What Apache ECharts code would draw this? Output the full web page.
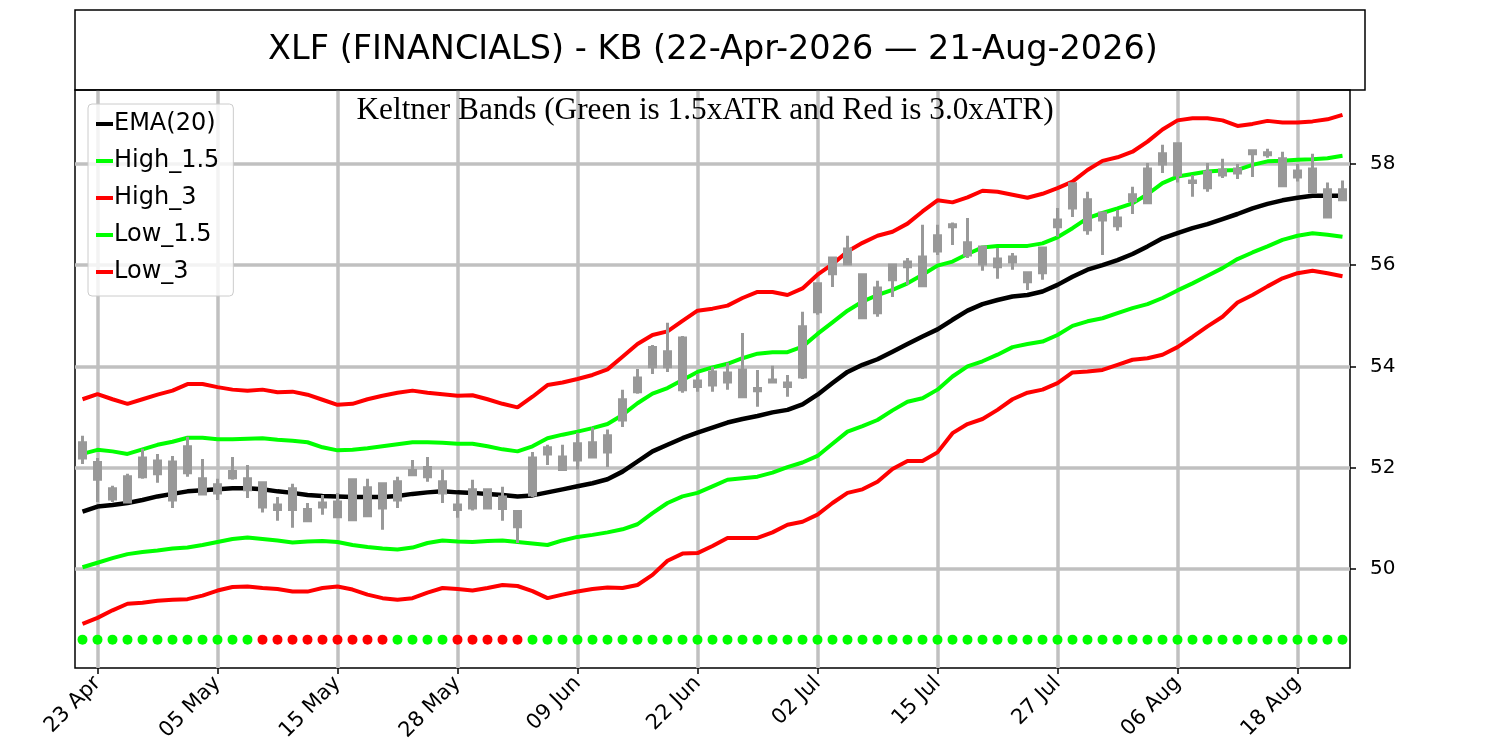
<!DOCTYPE html>
<html>
<head>
<meta charset="utf-8">
<title>XLF Keltner Bands</title>
<script src="https://cdn.jsdelivr.net/npm/echarts@6/dist/echarts.min.js"></script>
<style>
  html, body { margin: 0; padding: 0; background: #fff; }
  #chart { width: 1500px; height: 750px; }
</style>
</head>
<body>
<div id="chart"></div>
<script>
'use strict';

// trading days 22-Apr-2026 .. 21-Aug-2026
var dates = [
    '22 Apr', '23 Apr', '24 Apr', '27 Apr', '28 Apr', '29 Apr', '30 Apr',
    '01 May', '04 May', '05 May', '06 May', '07 May', '08 May', '11 May', '12 May', '13 May', '14 May', '15 May',
    '18 May', '19 May', '20 May', '21 May', '22 May', '26 May', '27 May', '28 May', '29 May',
    '01 Jun', '02 Jun', '03 Jun', '04 Jun', '05 Jun', '08 Jun', '09 Jun', '10 Jun', '11 Jun', '12 Jun',
    '15 Jun', '16 Jun', '17 Jun', '18 Jun', '22 Jun', '23 Jun', '24 Jun', '25 Jun', '26 Jun', '29 Jun', '30 Jun',
    '01 Jul', '02 Jul', '06 Jul', '07 Jul', '08 Jul', '09 Jul', '10 Jul', '13 Jul', '14 Jul', '15 Jul',
    '16 Jul', '17 Jul', '20 Jul', '21 Jul', '22 Jul', '23 Jul', '24 Jul', '27 Jul', '28 Jul', '29 Jul', '30 Jul', '31 Jul',
    '03 Aug', '04 Aug', '05 Aug', '06 Aug', '07 Aug', '10 Aug', '11 Aug', '12 Aug', '13 Aug', '14 Aug',
    '17 Aug', '18 Aug', '19 Aug', '20 Aug', '21 Aug'
];

// indexes of the dates that get a tick / label
var tickIndexes = [1, 9, 17, 25, 33, 41, 49, 57, 65, 73, 81];
var yTicks = [50, 52, 54, 56, 58];

// candle bodies and wicks
var opens = [
    52.49, 52.10, 51.58, 51.32, 51.82, 52.13, 52.11, 51.90, 51.78, 51.66,
    51.80, 51.78, 51.70, 51.26, 51.17, 51.17, 51.30, 51.03, 50.97, 51.60,
    51.20, 51.36, 51.86, 51.82, 51.72, 51.26, 51.20, 51.56, 51.42, 51.13,
    51.46, 52.27, 52.21, 52.15, 52.21, 52.31, 52.94, 53.50, 53.99, 54.29,
    54.56, 53.71, 53.63, 53.69, 53.93, 53.56, 53.69, 53.67, 53.79, 55.08,
    55.83, 56.02, 55.81, 55.55, 55.71, 56.06, 55.59, 56.28, 56.80, 56.44,
    56.36, 56.12, 56.06, 55.85, 55.85, 56.76, 57.13, 57.29, 57.03, 56.93,
    57.27, 57.23, 58.00, 58.40, 57.66, 57.53, 57.78, 57.82, 58.20, 58.22,
    58.10, 57.86, 57.90, 57.49, 57.29
];
var closes = [
    52.19, 51.77, 51.38, 51.82, 52.19, 51.88, 51.36, 52.41, 51.48, 51.50,
    51.92, 51.56, 51.22, 51.17, 51.58, 50.95, 51.22, 51.32, 51.76, 51.05,
    51.68, 51.72, 51.94, 52.00, 51.50, 51.17, 51.56, 51.20, 51.19, 50.83,
    52.19, 52.39, 51.96, 52.47, 52.49, 52.63, 53.34, 53.77, 54.37, 53.99,
    53.54, 53.60, 53.89, 53.87, 53.40, 53.52, 53.73, 53.60, 54.78, 55.63,
    56.14, 56.32, 54.96, 55.06, 56.00, 55.97, 56.16, 56.58, 56.76, 56.20,
    56.02, 55.97, 56.16, 55.67, 56.34, 56.89, 57.61, 56.70, 56.89, 56.78,
    57.39, 57.90, 58.20, 57.78, 57.63, 57.84, 57.88, 57.90, 58.26, 58.18,
    57.57, 57.74, 57.45, 56.95, 57.49
];
var lows = [
    52.07, 51.32, 51.32, 51.30, 51.78, 51.70, 51.20, 51.82, 51.46, 51.36,
    51.76, 51.40, 51.11, 50.95, 50.81, 50.95, 51.07, 51.03, 50.95, 51.03,
    50.77, 51.20, 51.86, 51.72, 51.30, 51.01, 51.15, 51.17, 50.95, 50.51,
    51.42, 52.05, 51.96, 51.96, 52.21, 52.01, 52.80, 53.46, 53.85, 53.89,
    53.48, 53.50, 53.50, 53.54, 53.40, 53.20, 53.69, 53.40, 53.75, 55.02,
    55.57, 56.02, 54.96, 54.98, 55.37, 55.61, 55.59, 56.20, 56.40, 56.14,
    55.89, 55.73, 55.91, 55.51, 55.71, 56.56, 56.95, 56.60, 56.20, 56.68,
    57.01, 57.23, 57.82, 57.63, 57.35, 57.45, 57.72, 57.70, 57.74, 58.12,
    57.57, 57.65, 57.43, 56.95, 57.27
];
var highs = [
    52.63, 52.19, 51.64, 51.88, 52.37, 52.27, 52.23, 52.61, 52.17, 51.78,
    52.21, 52.05, 51.72, 51.42, 51.68, 51.30, 51.46, 51.50, 51.78, 51.78,
    51.70, 51.82, 52.15, 52.21, 51.96, 51.46, 51.76, 51.58, 51.62, 51.13,
    52.31, 52.45, 52.45, 52.69, 52.79, 52.75, 53.54, 53.95, 54.42, 54.86,
    54.60, 53.85, 53.99, 54.07, 54.66, 53.93, 54.01, 53.83, 55.08, 55.63,
    56.14, 56.58, 55.81, 55.69, 56.00, 56.14, 56.80, 56.80, 56.84, 56.93,
    56.36, 56.34, 56.24, 55.85, 56.36, 57.13, 57.61, 57.45, 57.03, 57.09,
    57.55, 58.02, 58.38, 58.40, 57.78, 58.02, 58.10, 58.00, 58.28, 58.30,
    58.24, 58.00, 58.20, 57.63, 57.67
];

var ema20 = [
    51.13, 51.23, 51.26, 51.30, 51.36, 51.43, 51.48, 51.53, 51.55, 51.57,
    51.59, 51.59, 51.57, 51.53, 51.50, 51.46, 51.44, 51.43, 51.42, 51.42,
    51.42, 51.44, 51.48, 51.51, 51.53, 51.51, 51.50, 51.48, 51.46, 51.43,
    51.45, 51.51, 51.57, 51.63, 51.69, 51.77, 51.92, 52.12, 52.32, 52.45,
    52.58, 52.69, 52.79, 52.89, 52.96, 53.02, 53.09, 53.14, 53.25, 53.44,
    53.67, 53.89, 54.03, 54.14, 54.29, 54.44, 54.59, 54.73, 54.92, 55.10,
    55.23, 55.31, 55.38, 55.41, 55.48, 55.61, 55.77, 55.91, 56.00, 56.10,
    56.22, 56.37, 56.53, 56.63, 56.73, 56.81, 56.91, 57.01, 57.12, 57.21,
    57.28, 57.33, 57.37, 57.37, 57.37
];
var high15 = [
    52.27, 52.35, 52.32, 52.27, 52.36, 52.45, 52.51, 52.59, 52.59, 52.56,
    52.56, 52.57, 52.58, 52.55, 52.53, 52.50, 52.40, 52.34, 52.35, 52.38,
    52.42, 52.46, 52.50, 52.50, 52.49, 52.47, 52.47, 52.42, 52.36, 52.32,
    52.42, 52.58, 52.65, 52.71, 52.78, 52.86, 53.04, 53.27, 53.46, 53.57,
    53.73, 53.89, 53.98, 54.05, 54.16, 54.25, 54.28, 54.28, 54.39, 54.64,
    54.87, 55.10, 55.28, 55.41, 55.51, 55.64, 55.81, 55.99, 56.07, 56.22,
    56.35, 56.38, 56.38, 56.38, 56.43, 56.55, 56.73, 56.93, 57.03, 57.12,
    57.22, 57.40, 57.62, 57.75, 57.80, 57.85, 57.87, 57.88, 57.98, 58.05,
    58.06, 58.08, 58.09, 58.11, 58.16
];
var high3 = [
    53.35, 53.45, 53.35, 53.26, 53.35, 53.44, 53.52, 53.65, 53.65, 53.59,
    53.54, 53.52, 53.54, 53.49, 53.50, 53.44, 53.34, 53.24, 53.26, 53.35,
    53.42, 53.48, 53.52, 53.48, 53.45, 53.42, 53.43, 53.35, 53.26, 53.19,
    53.40, 53.63, 53.68, 53.75, 53.83, 53.94, 54.19, 54.44, 54.62, 54.69,
    54.90, 55.10, 55.14, 55.20, 55.35, 55.47, 55.47, 55.41, 55.54, 55.81,
    56.02, 56.27, 56.44, 56.58, 56.66, 56.82, 57.06, 57.28, 57.24, 57.34,
    57.47, 57.45, 57.39, 57.33, 57.41, 57.52, 57.65, 57.88, 58.06, 58.13,
    58.24, 58.44, 58.68, 58.86, 58.90, 58.90, 58.86, 58.75, 58.79, 58.85,
    58.82, 58.82, 58.84, 58.88, 58.97
];
var low15 = [
    50.03, 50.12, 50.21, 50.29, 50.33, 50.36, 50.40, 50.42, 50.47, 50.53,
    50.59, 50.62, 50.59, 50.56, 50.52, 50.54, 50.55, 50.53, 50.47, 50.43,
    50.40, 50.38, 50.42, 50.51, 50.56, 50.54, 50.53, 50.55, 50.56, 50.53,
    50.50, 50.47, 50.56, 50.63, 50.67, 50.72, 50.78, 50.88, 51.10, 51.30,
    51.43, 51.50, 51.63, 51.76, 51.79, 51.82, 51.90, 52.01, 52.10, 52.23,
    52.47, 52.71, 52.82, 52.94, 53.13, 53.30, 53.37, 53.54, 53.80, 54.00,
    54.10, 54.23, 54.38, 54.44, 54.49, 54.62, 54.80, 54.89, 54.95, 55.05,
    55.15, 55.23, 55.35, 55.50, 55.64, 55.79, 55.94, 56.12, 56.25, 56.37,
    56.50, 56.58, 56.63, 56.60, 56.56
];
var low3 = [
    48.91, 49.03, 49.18, 49.31, 49.33, 49.37, 49.39, 49.40, 49.47, 49.57,
    49.64, 49.65, 49.62, 49.60, 49.55, 49.55, 49.62, 49.65, 49.59, 49.49,
    49.42, 49.39, 49.42, 49.53, 49.62, 49.60, 49.57, 49.62, 49.68, 49.66,
    49.56, 49.42, 49.49, 49.55, 49.60, 49.63, 49.62, 49.68, 49.88, 50.16,
    50.30, 50.31, 50.45, 50.61, 50.61, 50.61, 50.72, 50.87, 50.93, 51.07,
    51.30, 51.50, 51.57, 51.72, 51.97, 52.13, 52.13, 52.30, 52.68, 52.86,
    52.96, 53.14, 53.35, 53.48, 53.54, 53.67, 53.88, 53.90, 53.93, 54.03,
    54.13, 54.16, 54.23, 54.38, 54.58, 54.79, 54.98, 55.26, 55.41, 55.58,
    55.74, 55.84, 55.89, 55.84, 55.78
];

// squeeze flag per day: 1 = red dot, 0 = green dot
var squeeze = [
    0, 0, 0, 0, 0, 0, 0, 0, 0, 0, 0, 0, 1, 1, 1, 1, 1, 1, 1, 1,
    1, 0, 0, 0, 0, 1, 1, 1, 1, 1, 0, 0, 0, 0, 0, 0, 0, 0, 0, 0,
    0, 0, 0, 0, 0, 0, 0, 0, 0, 0, 0, 0, 0, 0, 0, 0, 0, 0, 0, 0,
    0, 0, 0, 0, 0, 0, 0, 0, 0, 0, 0, 0, 0, 0, 0, 0, 0, 0, 0, 0,
    0, 0, 0, 0, 0
];
var dotLevel = 48.6;

var FONT = 'DejaVu Sans';
var GRID_COLOR = '#c0c0c0';
var CANDLE_COLOR = '#999999';

var candles = [];
for (var i = 0; i < dates.length; i++) {
    candles.push([opens[i], closes[i], lows[i], highs[i]]);
}
var dots = [];
for (var j = 0; j < dates.length; j++) {
    dots.push({
        value: dotLevel,
        itemStyle: { color: squeeze[j] ? '#ff0000' : '#00ff00', opacity: 1 }
    });
}

var isTick = function (index) {
    return tickIndexes.indexOf(index) >= 0;
};

var lineSeries = function (name, data, color, width) {
    return {
        name: name,
        type: 'line',
        data: data,
        symbol: 'none',
        z: 2,
        lineStyle: { color: color, width: width },
        itemStyle: { color: color }
    };
};

var chart = echarts.init(document.getElementById('chart'));
chart.setOption({
    animation: false,
    backgroundColor: '#fff',
    title: [{
        text: 'XLF (FINANCIALS) - KB (22-Apr-2026 \u2014 21-Aug-2026)',
        left: 713,
        top: 50,
        textAlign: 'center',
        textVerticalAlign: 'middle',
        padding: 0,
        textStyle: { fontFamily: FONT, fontSize: 33.5, fontWeight: 'normal', color: '#000' }
    }, {
        text: 'Keltner Bands (Green is 1.5xATR and Red is 3.0xATR)',
        left: 705,
        top: 111,
        textAlign: 'center',
        textVerticalAlign: 'middle',
        padding: 0,
        textStyle: { fontFamily: 'Liberation Serif', fontSize: 31.3, fontWeight: 'normal', color: '#000' }
    }],
    graphic: [{
        type: 'rect',
        shape: { x: 75, y: 10, width: 1290, height: 80 },
        style: { fill: 'none', stroke: '#000', lineWidth: 1.5 },
        z: 10
    }],
    legend: {
        data: ['EMA(20)', 'High_1.5', 'High_3', 'Low_1.5', 'Low_3'],
        orient: 'vertical',
        left: 88,
        top: 104,
        itemGap: 13,
        itemWidth: 17,
        itemHeight: 4,
        icon: 'rect',
        padding: [8, 14, 12, 8],
        borderColor: '#cccccc',
        borderWidth: 1,
        borderRadius: 4,
        backgroundColor: 'rgba(255,255,255,0.8)',
        textStyle: { fontFamily: FONT, fontSize: 24, color: '#000', padding: [0, 0, 0, -4] }
    },
    grid: {
        left: 75,
        top: 90,
        width: 1275,
        height: 578,
        show: true,
        borderColor: '#000',
        borderWidth: 1.5,
        containLabel: false
    },
    xAxis: {
        type: 'category',
        data: dates,
        boundaryGap: true,
        axisLine: { show: false },
        axisTick: {
            show: true,
            alignWithLabel: true,
            interval: isTick,
            length: 6,
            lineStyle: { color: '#000', width: 1.5 }
        },
        axisLabel: {
            interval: isTick,
            rotate: 45,
            margin: 12,
            fontFamily: FONT,
            fontSize: 21,
            color: '#000'
        },
        splitLine: {
            show: true,
            alignWithLabel: true,
            interval: isTick,
            lineStyle: { color: GRID_COLOR, width: 3.5 }
        }
    },
    yAxis: {
        type: 'value',
        position: 'right',
        min: 48.04,
        max: 59.46,
        axisLine: { show: false },
        axisTick: {
            show: true,
            customValues: yTicks,
            length: 6,
            lineStyle: { color: '#000', width: 1.5 }
        },
        axisLabel: {
            customValues: yTicks,
            margin: 20,
            fontFamily: FONT,
            fontSize: 20,
            color: '#000'
        },
        splitLine: {
            show: true,
            lineStyle: { color: GRID_COLOR, width: 3.5 }
        }
    },
    series: [
        lineSeries('EMA(20)', ema20, '#000000', 4.5),
        lineSeries('High_1.5', high15, '#00ff00', 4),
        lineSeries('High_3', high3, '#ff0000', 4),
        lineSeries('Low_1.5', low15, '#00ff00', 4),
        lineSeries('Low_3', low3, '#ff0000', 4),
        {
            name: 'candles',
            type: 'candlestick',
            data: candles,
            barWidth: 7,
            z: 3,
            itemStyle: {
                color: CANDLE_COLOR,
                color0: CANDLE_COLOR,
                borderColor: CANDLE_COLOR,
                borderColor0: CANDLE_COLOR,
                borderColorDoji: CANDLE_COLOR,
                borderWidth: 3
            }
        },
        {
            name: 'squeeze',
            type: 'scatter',
            data: dots,
            symbol: 'circle',
            symbolSize: 10,
            z: 3
        }
    ]
});
</script>
</body>
</html>
